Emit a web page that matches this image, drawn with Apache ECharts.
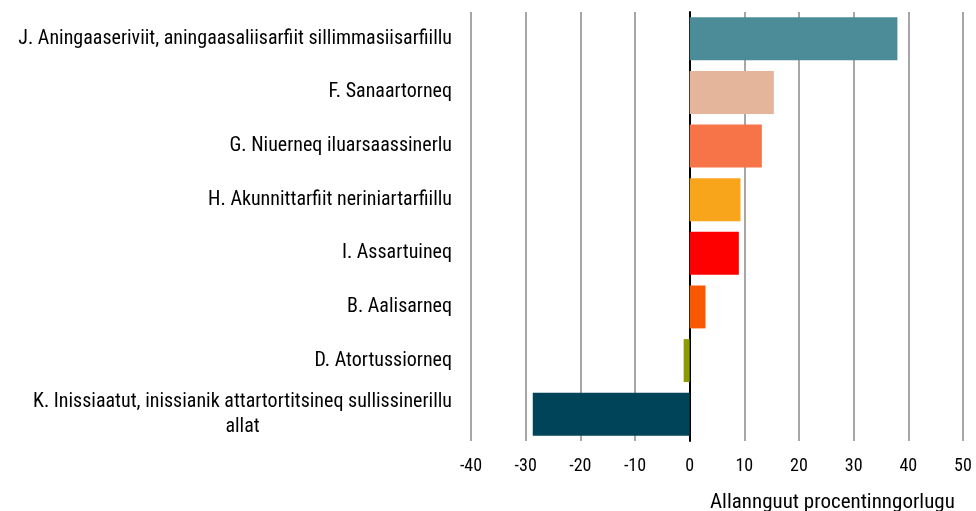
<!DOCTYPE html>
<html>
<head>
<meta charset="utf-8">
<script src="https://cdn.jsdelivr.net/npm/echarts@6/dist/echarts.min.js"></script>
<style>
  html, body { margin: 0; padding: 0; background: #fff; }
  #chart { width: 976px; height: 511px; }
</style>
</head>
<body>
<div id="chart"></div>
<script>
// kategoriit (qulaaniit ammut)
const categories = [
  'J. Aningaaseriviit, aningaasaliisarfiit sillimmasiisarfiillu',
  'F. Sanaartorneq',
  'G. Niuerneq iluarsaassinerlu',
  'H. Akunnittarfiit neriniartarfiillu',
  'I. Assartuineq',
  'B. Aalisarneq',
  'D. Atortussiorneq',
  'K. Inissiaatut, inissianik attartortitsineq sullissinerillu\nallat'
]
const values = [38.0, 15.4, 13.2, 9.3, 9.0, 2.9, -1.1, -28.7]
const barColors = ['#4c8c99', '#e5b59b', '#f77448', '#f9a51b', '#ff0000', '#f95700', '#8e9b00', '#004459']
const xTicks = { min: -40, max: 50, interval: 10 }

const font = '"Liberation Sans Narrow", "Roboto Condensed", "DejaVu Sans Condensed", sans-serif'
const labelSize = 20

// aappaat titarneqarpoq qeqqani: allatap siulliup takissusia naapertorlugu
const ctx = document.createElement('canvas').getContext('2d')
ctx.font = labelSize + 'px ' + font
const rich = { n: { fontFamily: font, fontSize: labelSize, lineHeight: 25, color: '#000' } }
categories.forEach(function (c) {
  const lines = c.split('\n')
  if (lines.length > 1) {
    const w0 = ctx.measureText(lines[0]).width
    for (let i = 1; i < lines.length; i++) {
      rich['p' + i] = {
        fontFamily: font, fontSize: labelSize, lineHeight: 25, color: '#000',
        padding: [0, Math.max(0, (w0 - ctx.measureText(lines[i]).width) / 2), 0, 0]
      }
    }
  }
})
function centerPad(v) {
  return v.split('\n').map(function (s, i) {
    return i === 0 ? '{n|' + s + '}' : '{p' + i + '|' + s + '}'
  }).join('\n')
}

const chart = echarts.init(document.getElementById('chart'))

chart.setOption({
  animation: false,
  textStyle: { fontFamily: font },
  title: {
    text: 'Allannguut procentinngorlugu',
    left: 705,
    top: 487,
    textStyle: { fontFamily: font, fontSize: 21, fontWeight: 'normal', color: '#000' }
  },
  grid: { left: 471, right: 13, top: 12, bottom: 70, containLabel: false },
  xAxis: {
    type: 'value',
    min: xTicks.min,
    max: xTicks.max,
    interval: xTicks.interval,
    axisLine: { show: false },
    axisTick: { show: false },
    axisLabel: { fontFamily: font, fontSize: 18, color: '#000', margin: 16 },
    splitLine: { show: true, lineStyle: { color: '#a6a6a6', width: 2 } }
  },
  yAxis: {
    type: 'category',
    inverse: true,
    data: categories,
    axisLine: { show: true, onZero: true, lineStyle: { color: '#000', width: 2 } },
    axisTick: { show: false },
    axisLabel: {
      margin: 19,
      color: '#000',
      fontFamily: font,
      fontSize: labelSize,
      lineHeight: 25,
      formatter: function (v) {
        return v.indexOf('\n') < 0 ? v : centerPad(v)
      },
      rich: rich
    }
  },
  series: [{
    type: 'bar',
    barCategoryGap: '20%',
    data: values.map(function (v, i) {
      return { value: v, itemStyle: { color: barColors[i] } }
    })
  }]
})
</script>
</body>
</html>
